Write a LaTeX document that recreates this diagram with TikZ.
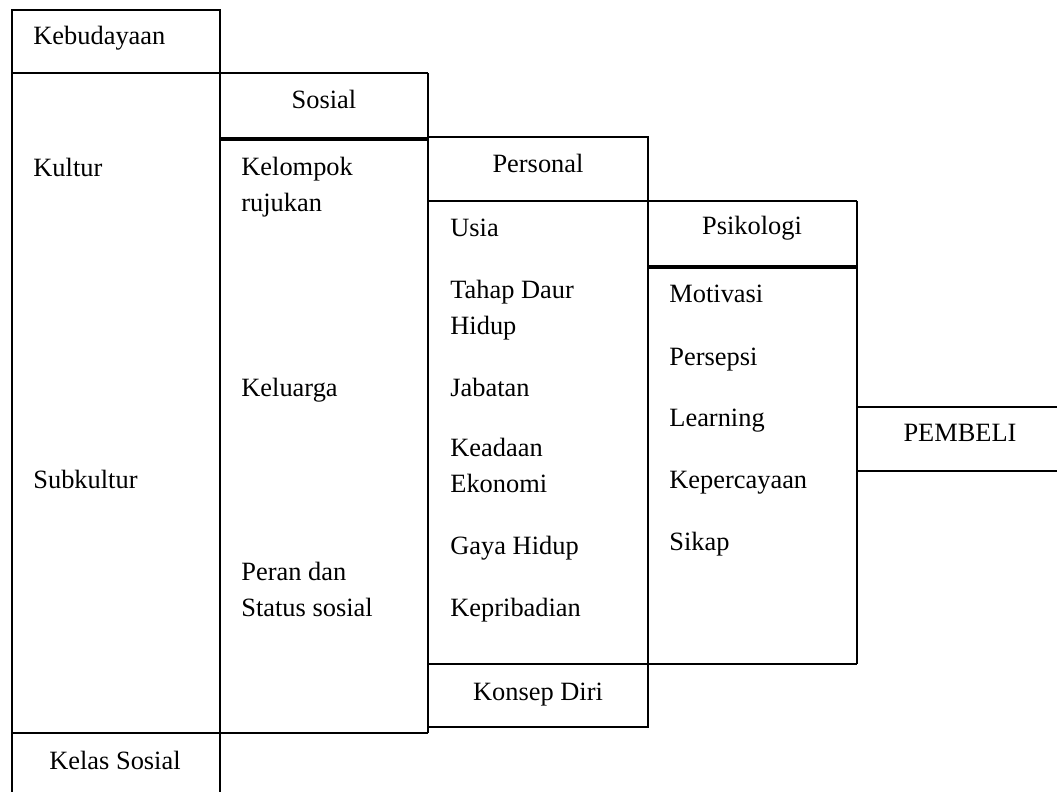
\documentclass[tikz,border=0pt]{standalone}
\usepackage{fontspec}
\setmainfont{Liberation Serif}
\begin{document}
\begin{tikzpicture}[x=0.5pt,y=-0.5pt,
  grid/.style={line width=0.8pt,black},
  thickline/.style={line width=1.6pt,black},
  lbl/.style={inner sep=0pt,anchor=base west,align=left,font=\fontsize{13.2}{18}\selectfont},
  clbl/.style={inner sep=0pt,anchor=base,align=center,font=\fontsize{13.2}{18}\selectfont}]
\useasboundingbox (0,0) rectangle (1057,792);
% column 1 (Kebudayaan)
\draw[grid] (12,792) -- (12,10) -- (220,10) -- (220,792);
\draw[grid] (12,73) -- (428,73);
\draw[grid] (12,733) -- (428,733);
% column 2 (Sosial)
\draw[grid] (428,73) -- (428,733);
\draw[thickline] (220,139) -- (428,139);
% column 3 (Personal)
\draw[grid] (428,137) -- (648,137) -- (648,727) -- (428,727);
\draw[grid] (428,201) -- (857,201);
\draw[grid] (428,664) -- (857,664);
% column 4 (Psikologi)
\draw[grid] (857,201) -- (857,664);
\draw[thickline] (648,267) -- (857,267);
% PEMBELI
\draw[grid] (857,407) -- (1057,407);
\draw[grid] (857,471) -- (1057,471);
% texts column 1
\node[lbl] (kebudayaan) at (33,45) {Kebudayaan};
\node[lbl] (kultur) at (33,177) {Kultur};
\node[lbl] (subkultur) at (33,488) {Subkultur};
\node[clbl] (kelas) at (115,769) {Kelas Sosial};
% column 2
\node[clbl] (sosial) at (324,109) {Sosial};
\node[lbl] (kelompok) at (241,212) {Kelompok\\rujukan};
\node[lbl] (keluarga) at (241,397) {Keluarga};
\node[lbl] (peran) at (241,617) {Peran dan\\Status sosial};
% column 3
\node[clbl] (personal) at (538,173) {Personal};
\node[lbl] (usia) at (450,237) {Usia};
\node[lbl] (tahap) at (450,335) {Tahap Daur\\Hidup};
\node[lbl] (jabatan) at (450,396) {Jabatan};
\node[lbl] (keadaan) at (450,493) {Keadaan\\Ekonomi};
\node[lbl] (gaya) at (450,554) {Gaya Hidup};
\node[lbl] (kepribadian) at (450,617) {Kepribadian};
\node[clbl] (konsep) at (538,700) {Konsep Diri};
% column 4
\node[clbl] (psikologi) at (752,235) {Psikologi};
\node[lbl] (motivasi) at (669,303) {Motivasi};
\node[lbl] (persepsi) at (669,365) {Persepsi};
\node[lbl] (learning) at (669,427) {Learning};
\node[lbl] (kepercayaan) at (669,488) {Kepercayaan};
\node[lbl] (sikap) at (669,550) {Sikap};
% PEMBELI
\node[clbl] (pembeli) at (960,442) {PEMBELI};
\end{tikzpicture}
\end{document}
